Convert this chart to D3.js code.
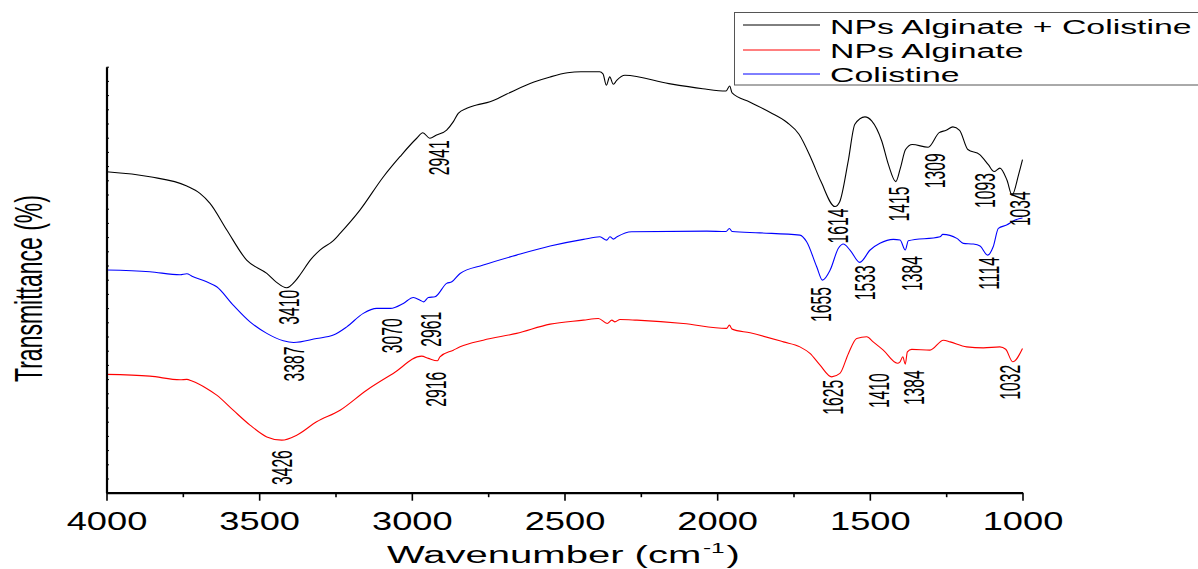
<!DOCTYPE html>
<html>
<head>
<meta charset="utf-8">
<script src="https://cdn.jsdelivr.net/npm/d3@7"></script>
<style>
  html, body { margin: 0; padding: 0; background: #fff; }
  svg { display: block; font-family: "Liberation Sans", Arial, sans-serif; }
</style>
</head>
<body>
<svg id="chart" width="1198" height="569"></svg>
<script>
// ---------------- data ----------------
const seriesNames = ["NPs Alginate + Colistine", "NPs Alginate", "Colistine"];

const blackWn = [4000,3858,3737,3694,3661,3606,3541,3475,3445,3410,3380,3366,3330,3300,3257,3235,3170,3093,3039,2984,2964,2941,2919,2886,2864,2848,2820,2788,2744,2689,2600,2547,2490,2446,2385,2374,2363,2352,2340,2329,2302,2158,2047,1971,1959,1951,1892,1826,1771,1732,1693,1660,1614,1599,1571,1549,1516,1494,1461,1439,1415,1400,1383,1361,1309,1273,1250,1228,1206,1179,1140,1112,1093,1074,1051,1034,1013,1000];
const blackT  = [22.60,22.25,21.60,21.08,20.38,18.50,16.38,15.44,14.85,14.43,14.95,15.35,16.45,17.10,17.75,18.26,19.90,22.25,23.66,24.96,25.35,24.96,25.19,25.54,26.13,26.72,27.07,27.30,27.53,28.08,28.92,29.28,29.57,29.64,29.64,29.50,28.69,29.28,28.76,29.04,29.40,28.81,28.45,28.29,28.64,28.15,27.50,26.78,26.07,25.24,23.57,21.91,20.15,20.47,23.33,25.95,26.47,26.19,24.77,23.10,21.91,22.86,24.17,24.52,24.33,25.36,25.52,25.76,25.52,24.17,23.81,23.10,22.62,22.86,22.02,20.95,22.38,23.45];

const blueWn = [4000,3858,3759,3737,3720,3672,3639,3585,3530,3475,3421,3387,3312,3257,3213,3159,3115,3070,3028,2995,2973,2961,2946,2924,2886,2869,2842,2766,2657,2547,2438,2384,2362,2351,2340,2328,2280,2034,1971,1960,1951,1860,1729,1707,1674,1655,1630,1603,1587,1565,1533,1499,1467,1423,1401,1384,1374,1270,1261,1215,1194,1161,1139,1114,1096,1079,1052,1024,1000];
const blueT  = [15.68,15.56,15.35,15.42,15.25,14.85,14.50,13.21,12.03,11.22,10.70,10.58,10.86,11.10,11.68,12.63,12.98,12.98,13.33,13.75,13.56,13.44,13.75,13.80,14.74,14.85,15.44,16.03,16.73,17.37,17.84,18.02,17.79,18.02,17.86,18.02,18.38,18.42,18.39,18.61,18.39,18.30,18.14,17.67,15.91,14.97,15.68,17.21,17.51,17.09,16.22,17.09,17.56,17.84,17.79,17.09,17.74,18.02,18.19,17.91,17.56,17.51,17.37,16.73,17.32,18.61,18.85,19.20,19.34];

const redWn = [4000,3858,3759,3737,3720,3672,3639,3585,3530,3475,3426,3377,3312,3235,3148,3061,2968,2946,2916,2908,2864,2842,2766,2657,2547,2438,2389,2360,2345,2335,2318,2263,2111,1969,1960,1951,1892,1783,1729,1696,1663,1625,1598,1570,1543,1510,1489,1456,1410,1401,1392,1384,1377,1363,1303,1259,1237,1183,1128,1074,1055,1032,1000];
const redT  = [8.33,8.21,7.95,7.98,7.86,7.34,6.87,5.81,4.76,3.93,3.70,4.05,4.99,5.81,7.22,8.40,9.62,9.46,9.29,9.57,10.04,10.27,10.74,11.22,11.87,12.15,12.27,11.92,12.15,12.03,12.20,12.15,11.92,11.57,11.80,11.52,11.26,10.62,10.27,9.81,8.98,8.16,8.40,9.81,10.86,10.98,10.62,10.04,9.12,9.22,9.57,9.05,9.92,10.09,10.04,10.74,10.62,10.27,10.20,10.27,10.10,9.22,10.16];

const blackPeaks = [3410, 2941, 1614, 1415, 1309, 1093, 1034];
const bluePeaks  = [3387, 3070, 2961, 1655, 1533, 1384, 1114];
const redPeaks   = [3426, 2916, 1625, 1410, 1384, 1032];

const xMajorTicks = [4000, 3500, 3000, 2500, 2000, 1500, 1000];
const xMinorTicks = [3750, 3250, 2750, 2250, 1750, 1250];

// ---------------- layout (pixel offsets for the peak labels) ----------------
const blackLabelOffsets = [[2,2],[9,2],[3,2],[3,5],[6.5,6],[-9,1.5],[8,-4]];
const blueLabelOffsets  = [[0,4],[1,10],[7,10],[-2,7],[5,3],[6.5,6],[1,2]];
const redLabelOffsets   = [[0,10],[-2,11],[1,3],[-19,10],[8,6],[-3,3]];

const svg = d3.select("#chart");
const FONT = "'Liberation Sans', Arial, sans-serif";

const x = d3.scaleLinear().domain([4000, 1000]).range([106.5, 1022.5]);
const y = d3.scaleLinear().domain([0, 30]).range([492.7, 66.7]);

function pairs(wn, t) { return wn.map((w, i) => [w, t[i]]); }
function valueAt(wn, t, w) {
  for (let i = 0; i < wn.length - 1; i++) {
    const a = wn[i], b = wn[i + 1];
    if (w <= a && w >= b) {
      const f = (a - w) / (a - b || 1);
      return t[i] + f * (t[i + 1] - t[i]);
    }
  }
  return t[t.length - 1];
}

const series = [
  { wn: blackWn, t: blackT, color: "#000000", peaks: blackPeaks, offs: blackLabelOffsets },
  { wn: redWn,   t: redT,   color: "#ff0000", peaks: redPeaks,   offs: redLabelOffsets },
  { wn: blueWn,  t: blueT,  color: "#0000ff", peaks: bluePeaks,  offs: blueLabelOffsets }
];

const line = d3.line()
  .x(d => x(d[0]))
  .y(d => y(d[1]))
  .curve(d3.curveMonotoneX);

// curves
series.forEach(s => {
  svg.append("path")
    .datum(pairs(s.wn, s.t))
    .attr("fill", "none")
    .attr("stroke", s.color)
    .attr("stroke-width", 1.1)
    .attr("stroke-linejoin", "round")
    .attr("d", line);
});

// peak labels (rotated, stretched like the reference)
series.forEach(s => {
  s.peaks.forEach((p, i) => {
    const cx = x(p) + s.offs[i][0];
    const top = y(valueAt(s.wn, s.t, p)) + s.offs[i][1];
    svg.append("text")
      .attr("transform", `translate(${cx},${top}) scale(1.83,1) rotate(-90)`)
      .attr("text-anchor", "end")
      .attr("dy", "0.36em")
      .attr("font-family", FONT)
      .attr("font-size", 15.7)
      .attr("fill", "#000")
      .text(p);
  });
});

// x axis - major
const xAxisG = svg.append("g")
  .attr("transform", `translate(0,${y(0)})`)
  .call(d3.axisBottom(x).tickValues(xMajorTicks).tickSize(8).tickSizeOuter(0).tickFormat(d3.format("d")));
xAxisG.select(".domain").attr("stroke", "#000").attr("stroke-width", 2.2);
xAxisG.selectAll(".tick line").attr("stroke", "#000").attr("stroke-width", 1.6);
xAxisG.selectAll(".tick text")
  .attr("font-family", FONT)
  .attr("font-size", 25)
  .attr("fill", "#000")
  .attr("y", 37)
  .attr("dy", "0")
  .attr("transform", "scale(1.45,1)");

// x axis - minor
const xMinorG = svg.append("g")
  .attr("transform", `translate(0,${y(0)})`)
  .call(d3.axisBottom(x).tickValues(xMinorTicks).tickSize(4.5).tickFormat(""));
xMinorG.select(".domain").remove();
xMinorG.selectAll(".tick line").attr("stroke", "#000").attr("stroke-width", 1.6);

// y axis
const yAxisG = svg.append("g")
  .attr("transform", `translate(${x(4000)},0)`)
  .call(d3.axisLeft(y).ticks(30).tickSize(-2.5).tickSizeOuter(0).tickFormat(""));
yAxisG.select(".domain").attr("stroke", "#000").attr("stroke-width", 2.2);
yAxisG.selectAll(".tick line").attr("stroke", "#000").attr("stroke-width", 1);

// axis titles
const xt = svg.append("text")
  .attr("transform", "translate(563.4,563.3) scale(1.74,1)")
  .attr("text-anchor", "middle")
  .attr("font-family", FONT)
  .attr("font-size", 23)
  .attr("fill", "#000");
xt.append("tspan").text("Wavenumber (cm");
xt.append("tspan").attr("font-size", 14).attr("dy", -10).attr("dx", 1).text("-1");
xt.append("tspan").attr("dy", 10).attr("dx", 1).text(")");

svg.append("text")
  .attr("transform", "translate(42,288.5) scale(1.7,1) rotate(-90)")
  .attr("text-anchor", "middle")
  .attr("font-family", FONT)
  .attr("font-size", 23)
  .attr("fill", "#000")
  .text("Transmittance (%)");

// legend
const legend = svg.append("g");
legend.append("rect")
  .attr("x", 734.5).attr("y", 12.5)
  .attr("width", 500).attr("height", 72.5)
  .attr("fill", "#fff")
  .attr("stroke", "#555").attr("stroke-width", 1);
const legendColors = ["#000000", "#ff0000", "#0000ff"];
seriesNames.forEach((name, i) => {
  const ly = 25 + i * 24.5;
  legend.append("line")
    .attr("x1", 743).attr("x2", 820)
    .attr("y1", Math.round(ly)).attr("y2", Math.round(ly))
    .attr("stroke", legendColors[i])
    .attr("stroke-width", 1);
  legend.append("text")
    .attr("transform", `translate(830,${33.5 + i * 24}) scale(1.61,1)`)
    .attr("font-family", FONT)
    .attr("font-size", 21)
    .attr("fill", "#000")
    .text(name);
});
</script>
</body>
</html>
